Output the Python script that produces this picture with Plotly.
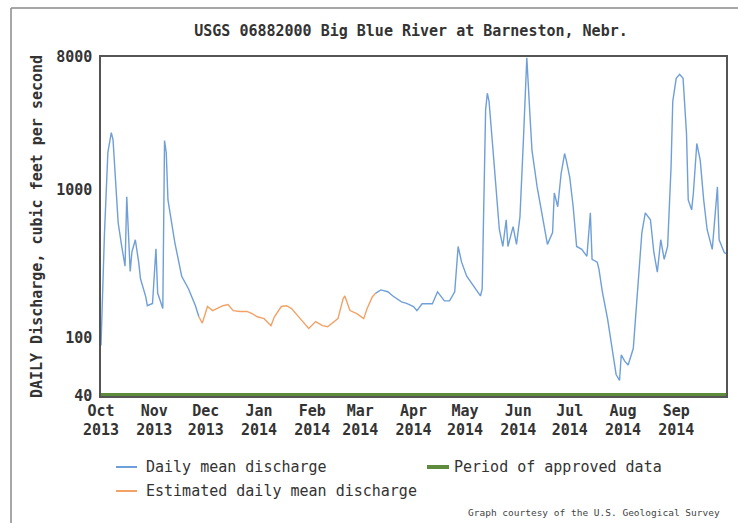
import plotly.graph_objects as go

# Daily mean discharge (approved), first segment Oct-Nov 2013
blue1_dates = ["2013-10-01", "2013-10-03", "2013-10-05", "2013-10-07", "2013-10-08", "2013-10-09",
               "2013-10-10", "2013-10-11", "2013-10-13", "2013-10-15", "2013-10-16", "2013-10-18",
               "2013-10-19", "2013-10-21", "2013-10-23", "2013-10-24", "2013-10-27", "2013-10-28",
               "2013-10-31", "2013-11-02", "2013-11-03", "2013-11-06", "2013-11-07", "2013-11-08",
               "2013-11-09", "2013-11-13", "2013-11-17", "2013-11-21", "2013-11-25", "2013-11-27"]
blue1_vals = [88, 500, 1800, 2450, 2200, 1500,
              900, 600, 420, 304, 900, 280,
              380, 460, 320, 250, 190, 164,
              170, 400, 200, 157, 2165, 1800,
              857, 440, 260, 213, 164, 138]

# Estimated daily mean discharge
orange_dates = ["2013-11-27", "2013-11-29", "2013-12-02", "2013-12-05", "2013-12-08", "2013-12-11",
                "2013-12-14", "2013-12-17", "2013-12-21", "2013-12-25", "2013-12-28", "2013-12-31",
                "2014-01-04", "2014-01-08", "2014-01-10", "2014-01-14", "2014-01-17", "2014-01-20",
                "2014-01-25", "2014-01-30", "2014-02-03", "2014-02-07", "2014-02-10", "2014-02-16",
                "2014-02-19", "2014-02-20", "2014-02-23", "2014-02-27", "2014-03-03", "2014-03-05",
                "2014-03-08", "2014-03-10"]
orange_vals = [138, 125, 162, 152, 158, 164,
               167, 152, 150, 150, 145, 138,
               134, 120, 138, 162, 164, 157,
               134, 115, 128, 120, 118, 134,
               183, 191, 152, 145, 134, 157,
               188, 200]

# Daily mean discharge, second segment Mar-Sep 2014
blue2_dates = ["2014-03-10", "2014-03-13", "2014-03-17", "2014-03-20", "2014-03-25", "2014-03-28",
               "2014-04-01", "2014-04-03", "2014-04-06", "2014-04-12", "2014-04-15", "2014-04-19",
               "2014-04-22", "2014-04-25", "2014-04-27", "2014-04-29", "2014-05-02", "2014-05-06",
               "2014-05-10", "2014-05-11", "2014-05-13", "2014-05-14", "2014-05-15", "2014-05-17",
               "2014-05-19", "2014-05-21", "2014-05-23", "2014-05-25", "2014-05-26", "2014-05-29",
               "2014-05-31", "2014-06-02", "2014-06-04", "2014-06-06", "2014-06-08", "2014-06-09",
               "2014-06-12", "2014-06-15", "2014-06-18", "2014-06-21", "2014-06-22", "2014-06-24",
               "2014-06-26", "2014-06-28", "2014-06-29", "2014-07-01", "2014-07-03", "2014-07-05",
               "2014-07-08", "2014-07-11", "2014-07-13", "2014-07-14", "2014-07-17", "2014-07-18",
               "2014-07-20", "2014-07-23", "2014-07-26", "2014-07-28", "2014-07-30", "2014-07-31",
               "2014-08-02", "2014-08-04", "2014-08-07", "2014-08-09", "2014-08-12", "2014-08-14",
               "2014-08-17", "2014-08-19", "2014-08-21", "2014-08-23", "2014-08-25", "2014-08-27",
               "2014-08-29", "2014-08-30", "2014-09-01", "2014-09-03", "2014-09-05", "2014-09-07",
               "2014-09-08", "2014-09-10", "2014-09-11", "2014-09-13", "2014-09-15", "2014-09-17",
               "2014-09-19", "2014-09-22", "2014-09-24", "2014-09-25", "2014-09-26", "2014-09-29",
               "2014-09-30"]
blue2_vals = [200, 210, 204, 191, 174, 170,
              162, 152, 169, 169, 204, 177,
              177, 204, 414, 324, 260, 223,
              191, 213, 3500, 4540, 4000, 2070,
              1050, 540, 414, 629, 414, 565,
              428, 659, 2165, 7900, 2950, 1860,
              1050, 659, 428, 514, 955, 770,
              1300, 1770, 1590, 1220, 770, 414,
              396, 355, 700, 339, 324, 290,
              204, 134, 80, 56, 51, 76,
              69, 65, 84, 183, 514, 700,
              629, 377, 277, 460, 339, 414,
              1430, 4000, 5730, 6100, 5730, 2410,
              857, 734, 955, 2070, 1590, 857,
              540, 396, 770, 1050, 460, 377,
              370]

# Period of approved data
approved_dates = ["2013-10-01", "2014-09-30"]
approved_vals = [40, 40]

tick_dates = ["2013-10-01", "2013-11-01", "2013-12-01", "2014-01-01", "2014-02-01", "2014-03-01",
              "2014-04-01", "2014-05-01", "2014-06-01", "2014-07-01", "2014-08-01", "2014-09-01"]
tick_labels = ["Oct<br>2013", "Nov<br>2013", "Dec<br>2013", "Jan<br>2014", "Feb<br>2014", "Mar<br>2014",
               "Apr<br>2014", "May<br>2014", "Jun<br>2014", "Jul<br>2014", "Aug<br>2014", "Sep<br>2014"]
y_ticks = [40, 100, 1000, 8000]
y_tick_labels = ["40", "100", "1000", "8000"]

BLUE = "#6f9fd8"
ORANGE = "#f2a267"
GREEN = "#5f8c3c"
MONO = "DejaVu Sans Mono"
TXT = "#333333"

fig = go.Figure()
fig.add_trace(go.Scatter(x=approved_dates, y=approved_vals, mode="lines",
                         line=dict(color=GREEN, width=6), showlegend=False, hoverinfo="skip"))
fig.add_trace(go.Scatter(x=blue1_dates, y=blue1_vals, mode="lines",
                         line=dict(color=BLUE, width=1.4), showlegend=False))
fig.add_trace(go.Scatter(x=orange_dates, y=orange_vals, mode="lines",
                         line=dict(color=ORANGE, width=1.4), showlegend=False))
fig.add_trace(go.Scatter(x=blue2_dates, y=blue2_vals, mode="lines",
                         line=dict(color=BLUE, width=1.4), showlegend=False))

fig.update_layout(
    width=738, height=523,
    margin=dict(l=101, r=12, t=57, b=127),
    paper_bgcolor="white", plot_bgcolor="white",
    showlegend=False,
    font=dict(family=MONO, color=TXT),
    title=dict(text="<b>USGS 06882000 Big Blue River at Barneston, Nebr.</b>",
               x=411 / 738, xanchor="center", y=1 - 31 / 523, yanchor="middle",
               font=dict(family=MONO, size=15, color=TXT)),
    xaxis=dict(type="date", range=["2013-10-01", "2014-09-30"], automargin=False,
               tickvals=tick_dates,
               ticktext=["<b>" + t.replace("<br>", "</b><br><b>") + "</b>" for t in tick_labels],
               tickfont=dict(family=MONO, size=15, color=TXT),
               showgrid=False, zeroline=False, showline=True, linecolor="#555555",
               linewidth=1.5, mirror=True, ticks="", ticklen=0),
    yaxis=dict(type="log", range=[1.6021, 3.9031], automargin=False,
               tickvals=y_ticks, ticktext=["<b>" + t + "</b>" for t in y_tick_labels],
               tickfont=dict(family=MONO, size=15, color=TXT),
               showgrid=False, zeroline=False, showline=True, linecolor="#555555",
               linewidth=1.5, mirror=True, ticks="", ticklen=0, ticklabelstandoff=4,
               title=dict(text="<b>DAILY Discharge, cubic feet per second</b>",
                          font=dict(family=MONO, size=15, color=TXT), standoff=10)),
)

def px_x(p):
    return (p - 101) / 625

def px_y(p):
    return (396 - p) / 339

# Outer image border (top and left)
fig.add_shape(type="line", xref="paper", yref="paper",
              x0=px_x(11), x1=px_x(740), y0=px_y(8), y1=px_y(8),
              line=dict(color="#8a8a8a", width=1.5))
fig.add_shape(type="line", xref="paper", yref="paper",
              x0=px_x(11), x1=px_x(11), y0=px_y(8), y1=px_y(525),
              line=dict(color="#8a8a8a", width=1.5))

# Legend (drawn manually)
legend_items = [
    ("Daily mean discharge", BLUE, 2, 116, 137, 144, 467),
    ("Estimated daily mean discharge", ORANGE, 2, 116, 137, 144, 491),
    ("Period of approved data", GREEN, 4, 427, 449, 452, 467),
]
for text, col, w, lx0, lx1, tx, ty in legend_items:
    fig.add_shape(type="line", xref="paper", yref="paper",
                  x0=px_x(lx0), x1=px_x(lx1), y0=px_y(ty), y1=px_y(ty),
                  line=dict(color=col, width=w))
    fig.add_annotation(xref="paper", yref="paper", x=px_x(tx), y=px_y(ty),
                       text=text, showarrow=False, xanchor="left", yanchor="middle",
                       font=dict(family=MONO, size=15, color=TXT))

fig.add_annotation(xref="paper", yref="paper", x=px_x(722), y=px_y(512),
                   text="Graph courtesy of the U.S. Geological Survey", showarrow=False,
                   xanchor="right", yanchor="middle",
                   font=dict(family=MONO, size=9.5, color="#444444"))

fig.write_html("out.html", config={"displayModeBar": False},
               post_script="document.body.style.margin='0';")
